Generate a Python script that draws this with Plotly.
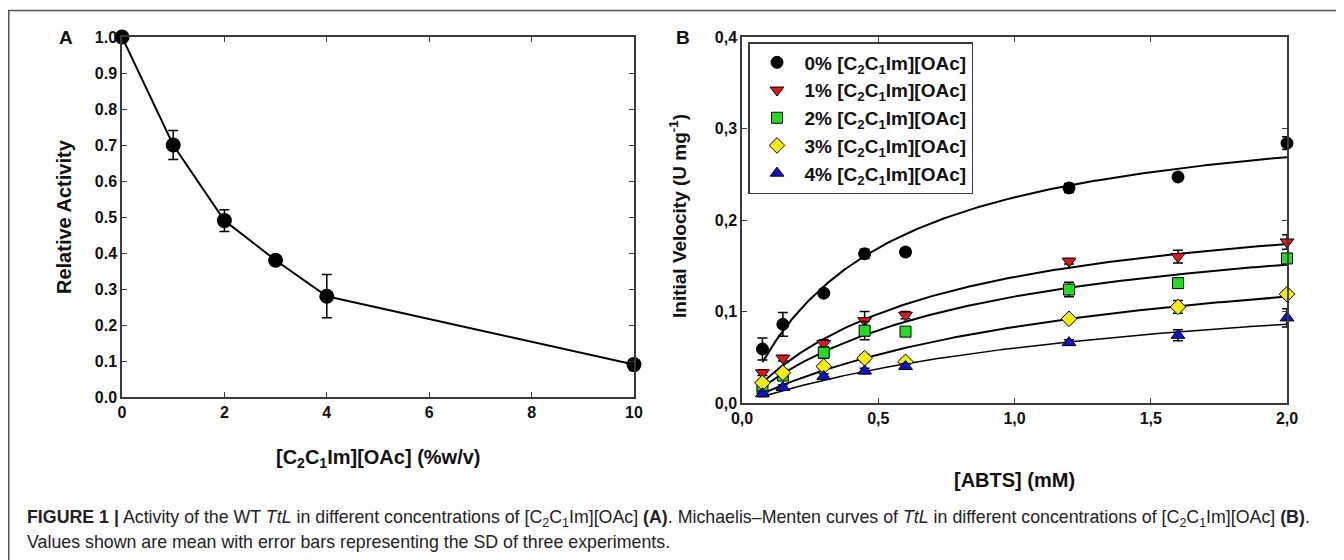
import numpy as np
import plotly.graph_objects as go

# ---------------- Data ----------------
# Panel A
conc_a = [0, 1, 2, 3, 4, 10]
rel_act = [1.00, 0.70, 0.49, 0.38, 0.28, 0.09]
rel_err = [0.0, 0.04, 0.03, 0.0, 0.06, 0.015]
ticks_a_x = [0, 2, 4, 6, 8, 10]
ticks_a_y = [0.0, 0.1, 0.2, 0.3, 0.4, 0.5, 0.6, 0.7, 0.8, 0.9, 1.0]

# Panel B
abts = [0.075, 0.15, 0.3, 0.45, 0.6, 1.2, 1.6, 2.0]
v0 = [0.059, 0.086, 0.120, 0.163, 0.165, 0.235, 0.247, 0.284]
v1 = [0.033, 0.049, 0.065, 0.090, 0.096, 0.155, 0.160, 0.176]
v2 = [0.016, 0.030, 0.055, 0.079, 0.078, 0.124, 0.131, 0.158]
v3 = [0.022, 0.033, 0.040, 0.049, 0.045, 0.092, 0.105, 0.119]
v4 = [0.010, 0.017, 0.029, 0.035, 0.040, 0.066, 0.074, 0.093]
e0 = [0.012, 0.013, 0.004, 0.005, 0.004, 0.005, 0.004, 0.007]
e1 = [0.003, 0.003, 0.004, 0.010, 0.004, 0.003, 0.007, 0.008]
e2 = [0.003, 0.005, 0.006, 0.010, 0.003, 0.008, 0.004, 0.004]
e3 = [0.003, 0.004, 0.003, 0.004, 0.003, 0.003, 0.007, 0.003]
e4 = [0.003, 0.003, 0.003, 0.003, 0.003, 0.003, 0.006, 0.010]
# Michaelis-Menten fit parameters
vmax = [0.334, 0.235, 0.216, 0.193, 0.152]
km = [0.486, 0.706, 0.857, 1.32, 1.53]
series_names = ["0% [C<sub>2</sub>C<sub>1</sub>Im][OAc]",
                "1% [C<sub>2</sub>C<sub>1</sub>Im][OAc]",
                "2% [C<sub>2</sub>C<sub>1</sub>Im][OAc]",
                "3% [C<sub>2</sub>C<sub>1</sub>Im][OAc]",
                "4% [C<sub>2</sub>C<sub>1</sub>Im][OAc]"]
ticks_b_x = [0, 0.5, 1.0, 1.5, 2.0]
ticks_b_x_text = ["0,0", "0,5", "1,0", "1,5", "2,0"]
ticks_b_y = [0, 0.1, 0.2, 0.3, 0.4]
ticks_b_y_text = ["0,0", "0,1", "0,2", "0,3", "0,4"]

# ---------------- Style ----------------
W, H = 1344, 560
OFF = 8  # page body margin offset
FONT = "Liberation Sans, Arial, sans-serif"
AX = "#3a3a3a"
colors = ["#000000", "#e8141b", "#22dd22", "#f5ee00", "#1010d0"]
symbols = ["circle", "triangle-down", "square", "diamond", "triangle-up"]
msizes = [12, 12, 11, 12, 12]
curve_w = [2, 2, 2, 2, 1.5]


def px_x(x):
    return (x - OFF) / W


def px_y(y):
    return (H - (y - OFF)) / H


fig = go.Figure()

# Panel A
fig.add_trace(go.Scatter(
    x=conc_a, y=rel_act, mode="lines+markers",
    line=dict(color="black", width=2),
    marker=dict(color="black", size=15, symbol="circle"),
    error_y=dict(type="data", array=rel_err, color="black", thickness=1.5, width=5),
    cliponaxis=False, showlegend=False, xaxis="x", yaxis="y"))

# Panel B curves
xs = np.linspace(abts[0], abts[-1], 200)
vals = [v0, v1, v2, v3, v4]
errs = [e0, e1, e2, e3, e4]
for i in range(5):
    fig.add_trace(go.Scatter(
        x=xs, y=vmax[i] * xs / (km[i] + xs), mode="lines",
        line=dict(color="black", width=curve_w[i]),
        showlegend=False, hoverinfo="skip", xaxis="x2", yaxis="y2"))

for i in range(5):
    fig.add_trace(go.Scatter(
        x=abts, y=vals[i], mode="markers", name=series_names[i],
        marker=dict(color=colors[i], size=msizes[i], symbol=symbols[i],
                    line=dict(color="black", width=1)),
        error_y=dict(type="data", array=errs[i], color="black", thickness=1.5, width=5),
        cliponaxis=False, xaxis="x2", yaxis="y2"))

axis_common = dict(showline=True, linecolor=AX, linewidth=1.5, mirror="ticks",
                   ticks="inside", ticklen=5, tickwidth=1.2, tickcolor=AX,
                   showgrid=False, zeroline=False, automargin=False,
                   tickfont=dict(family=FONT, size=16, color="#111", weight="bold"))

fig.update_layout(
    template="none",
    width=W, height=H,
    margin=dict(l=0, r=0, t=0, b=0, autoexpand=False),
    paper_bgcolor="white", plot_bgcolor="white",
    font=dict(family=FONT, color="#111"),
    xaxis=dict(domain=[px_x(122), px_x(634)], range=[0, 10], tickvals=ticks_a_x,
               anchor="y", **axis_common),
    yaxis=dict(domain=[px_y(397), px_y(37)], range=[0, 1.0], tickvals=ticks_a_y,
               tickformat=".1f", anchor="x", **axis_common),
    xaxis2=dict(domain=[px_x(742), px_x(1287)], range=[0, 2.0], tickvals=ticks_b_x,
                ticktext=ticks_b_x_text, anchor="y2", **axis_common),
    yaxis2=dict(domain=[px_y(403), px_y(37)], range=[0, 0.4], tickvals=ticks_b_y,
                ticktext=ticks_b_y_text, anchor="x2", **axis_common),
    legend=dict(x=px_x(748), y=px_y(42), xanchor="left", yanchor="top",
                bordercolor=AX, borderwidth=1.5, bgcolor="white",
                font=dict(family=FONT, size=19, color="#111", weight="bold"),
                itemwidth=45, traceorder="normal"),
    showlegend=True,
)

annots = [
    dict(text="<b>A</b>", x=px_x(66), y=px_y(37), size=19),
    dict(text="<b>B</b>", x=px_x(683), y=px_y(37), size=19),
    dict(text="<b>[C<sub>2</sub>C<sub>1</sub>Im][OAc] (%w/v)</b>", x=px_x(378), y=px_y(458), size=20),
    dict(text="<b>[ABTS] (mM)</b>", x=px_x(1015), y=px_y(480), size=20),
]
for a in annots:
    fig.add_annotation(text=a["text"], x=a["x"], y=a["y"], xref="paper", yref="paper",
                       showarrow=False, xanchor="center", yanchor="middle",
                       font=dict(family=FONT, size=a["size"], color="#111"))

fig.add_annotation(text="<b>Relative Activity</b>", x=px_x(64), y=px_y(217),
                   xref="paper", yref="paper", showarrow=False, textangle=-90,
                   xanchor="center", yanchor="middle",
                   font=dict(family=FONT, size=20, color="#111"))
fig.add_annotation(text="<b>Initial Velocity (U mg<sup>-1</sup>)</b>", x=px_x(678), y=px_y(216),
                   xref="paper", yref="paper", showarrow=False, textangle=-90,
                   xanchor="center", yanchor="middle",
                   font=dict(family=FONT, size=19, color="#111"))

cap1 = ("<b>FIGURE 1 |</b> Activity of the WT <i>TtL</i> in different concentrations of "
        "[C<sub>2</sub>C<sub>1</sub>Im][OAc] <b>(A)</b>. Michaelis–Menten curves of <i>TtL</i> "
        "in different concentrations of [C<sub>2</sub>C<sub>1</sub>Im][OAc] <b>(B)</b>.")
cap2 = "Values shown are mean with error bars representing the SD of three experiments."
fig.add_annotation(text=cap1, x=px_x(25), y=px_y(518), xref="paper", yref="paper",
                   showarrow=False, xanchor="left", yanchor="middle",
                   font=dict(family=FONT, size=17.8, color="#222"))
fig.add_annotation(text=cap2, x=px_x(25), y=px_y(542), xref="paper", yref="paper",
                   showarrow=False, xanchor="left", yanchor="middle",
                   font=dict(family=FONT, size=17.8, color="#222"))

# outer figure frame (top and left edges visible)
fig.add_shape(type="line", xref="paper", yref="paper", x0=px_x(8), x1=1.0,
              y0=px_y(10.5), y1=px_y(10.5), line=dict(color="#555", width=1.5))
fig.add_shape(type="line", xref="paper", yref="paper", x0=px_x(8.75), x1=px_x(8.75),
              y0=px_y(10.5), y1=0, line=dict(color="#555", width=1.5))

fig.write_html("out.html")
